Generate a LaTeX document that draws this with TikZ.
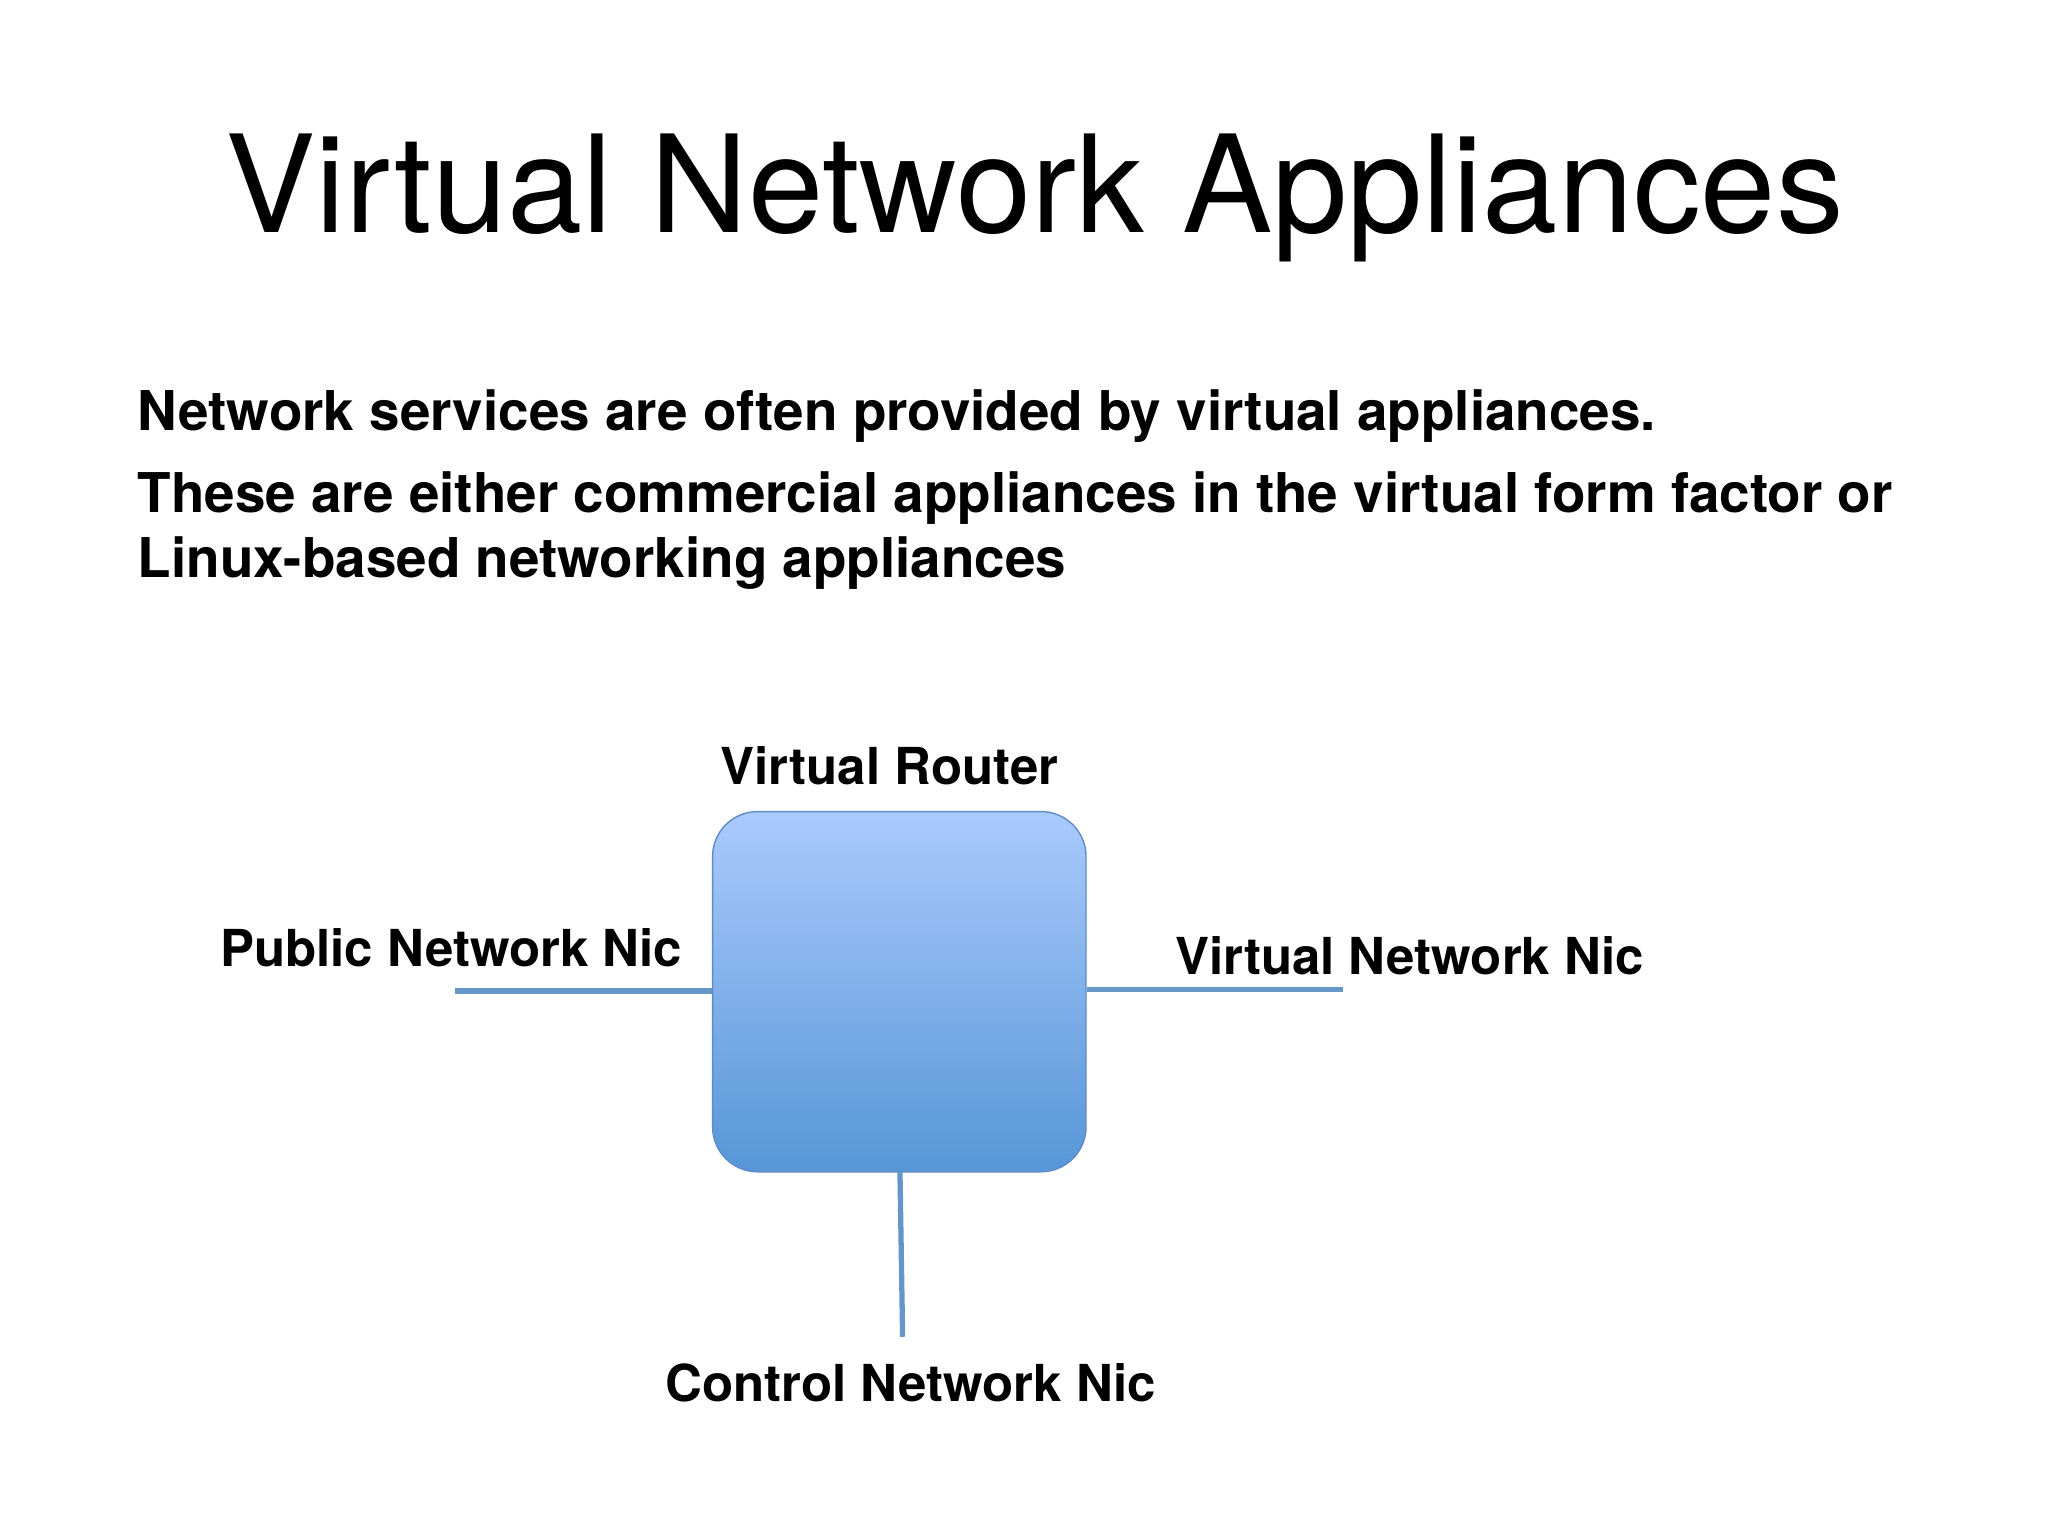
\documentclass[tikz,border=0pt]{standalone}
\usepackage{fontspec}
\setmainfont{TeX Gyre Heros}
\begin{document}
\begin{tikzpicture}[x=0.013196cm,y=-0.013196cm,
  lbl/.style={font=\fontsize{14.5}{17}\selectfont\bfseries},
  body/.style={font=\fontsize{15.6}{18}\selectfont\bfseries},
  wire/.style={draw={rgb,255:red,100;green,150;blue,200},line width=1.5pt}]
\definecolor{boxtop}{RGB}{170,202,252}
\definecolor{boxbot}{RGB}{86,150,215}
\definecolor{boxedge}{RGB}{95,140,200}
\useasboundingbox (0,0) rectangle (1552,1164);
\node[font=\fontsize{38.5}{42}\selectfont] (title) at (784,150) {Virtual Network Appliances};
\node[body,anchor=base west] (b1) at (95,326) {Network services are often provided by virtual appliances.};
\node[body,anchor=base west] (b2) at (95,388) {These are either commercial appliances in the virtual form factor or};
\node[body,anchor=base west] (b3) at (95,438) {Linux-based networking appliances};
\node[draw=boxedge,rounded corners=0.45cm,minimum width=283*0.013196cm,minimum height=273*0.013196cm,
  top color=boxtop,bottom color=boxbot] (router) at (681.5,751.5) {};
\coordinate (pl) at (345,751);
\coordinate (pr) at (1018,750);
\coordinate (pb) at (684,1013);
\draw[wire] (pl) -- (router.west |- pl);
\draw[wire] (router.east |- pr) -- (pr);
\draw[wire] (682,888) -- (pb);
\node[lbl] (vr) at (674,580) {Virtual Router};
\node[lbl] (pub) at (342,718) {Public Network Nic};
\node[lbl] (vn) at (1068,724) {Virtual Network Nic};
\node[lbl] (cn) at (690,1048) {Control Network Nic};
\end{tikzpicture}
\end{document}
